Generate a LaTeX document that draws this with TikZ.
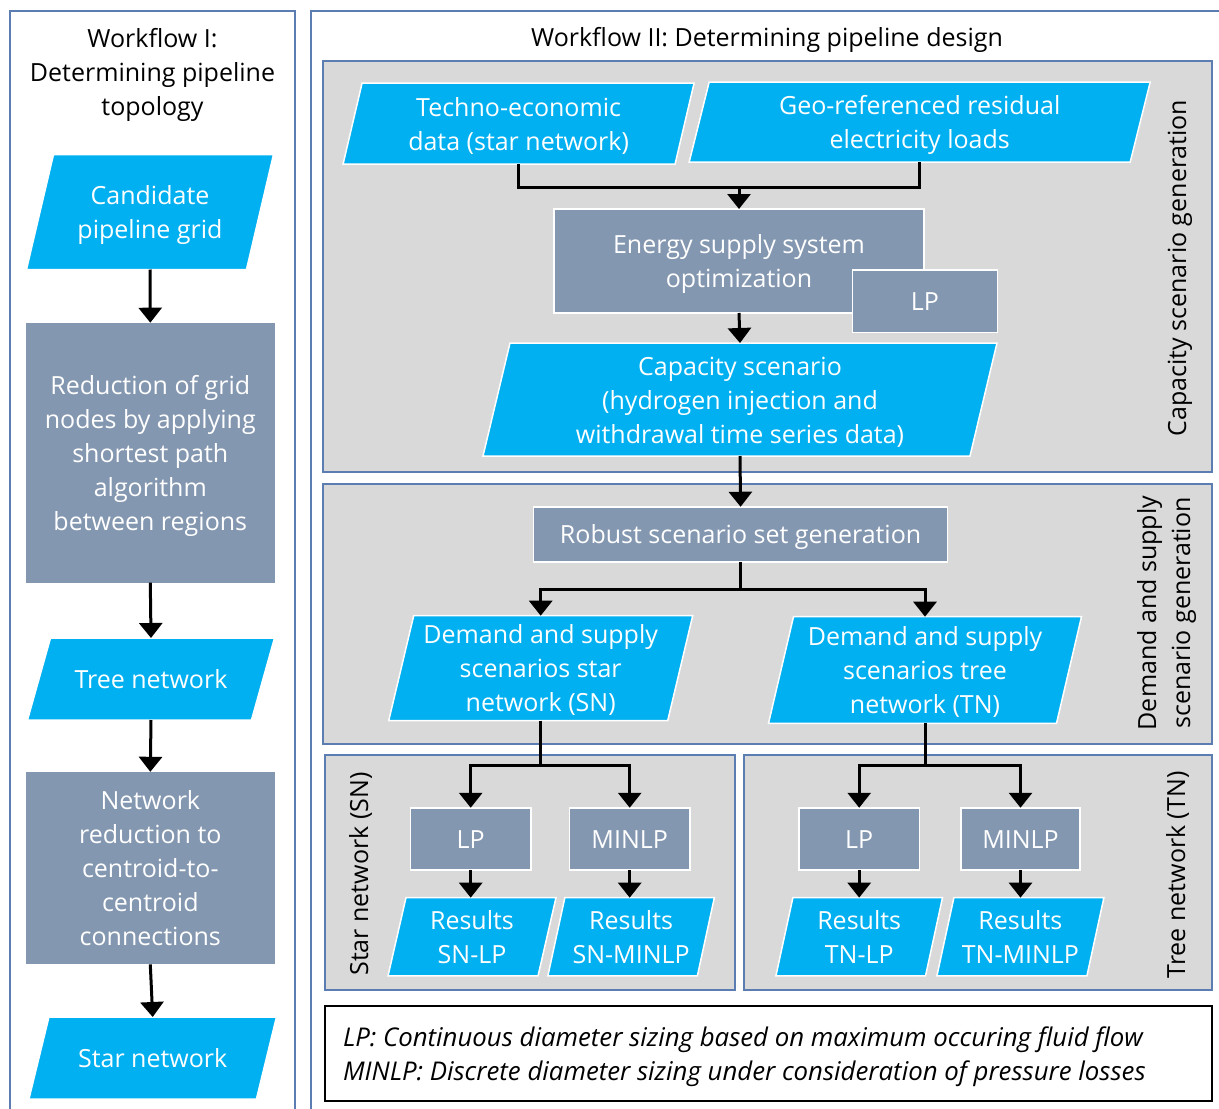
\documentclass[tikz,border=0pt]{standalone}
\usepackage{fontspec}
\setmainfont{Open Sans}
\usetikzlibrary{arrows.meta,calc}
\pgfdeclarelayer{bgpanel}
\pgfdeclarelayer{bgshape}
\pgfsetlayers{bgpanel,bgshape,main}
\definecolor{cyanF}{HTML}{00B0F0}
\definecolor{procF}{HTML}{8497B0}
\definecolor{panelF}{HTML}{D9D9D9}
\definecolor{frameC}{HTML}{5B7DB1}
% struts so every text block has fixed ascent/descent
\newcommand\T[1]{\rule{0pt}{26.5pt}#1\rule[-7.5pt]{0pt}{0pt}}
\tikzset{
 txt/.style={font=\fontsize{25}{34}\selectfont, align=center, inner sep=0pt, outer sep=0pt},
 proc/.style={txt, fill=procF, text=white, draw=white, line width=1.5pt},
 ptext/.style={txt, text=white},
 pshape/.style={fill=cyanF, draw=white, line width=1.5pt},
 panel/.style={fill=panelF, draw=frameC, line width=2pt},
 frame/.style={draw=frameC, line width=2pt},
 arr/.style={line width=3pt, -{Triangle[width=23pt,length=15pt]}},
 ln/.style={line width=3pt},
 vlabel/.style={txt, rotate=90, text=black},
}
% name, cx, cy, width of horizontal edge, height, slant, text
\newcommand\para[7]{%
 \node[ptext, minimum width=#4pt, minimum height=#5pt] (#1) at (#2,#3) {\T{#7}};
 \begin{pgfonlayer}{bgshape}
 \filldraw[pshape] ($(#1.north west)+(#6/2,0)$) -- ($(#1.north east)+(#6/2,0)$)
   -- ($(#1.south east)+(-#6/2,0)$) -- ($(#1.south west)+(-#6/2,0)$) -- cycle;
 \end{pgfonlayer}}
\begin{document}
\begin{tikzpicture}[x=1pt,y=-1pt]
\useasboundingbox (0,0) rectangle (1219,1109);
% ---------- panels ----------
\begin{pgfonlayer}{bgpanel}
 \fill[white] (0,0) rectangle (1219,1109);
 \draw[frame] (10,11) rectangle (295,1118);
 \draw[frame] (311,11) rectangle (1228,1118);
 \draw[panel] (323,61) rectangle (1212,472);
 \draw[panel] (323,484) rectangle (1212,744);
 \draw[panel] (325,755) rectangle (735,990);
 \draw[panel] (744,755) rectangle (1212,990);
 \draw[draw=black, line width=2pt] (325,1006) rectangle (1212,1101);
\end{pgfonlayer}
% ---------- workflow I ----------
\node[txt] (t1) at (152.5,72) {\T{Workflow I:\\Determining pipeline\\topology}};
\para{cand}{150}{212}{220}{115}{27}{Candidate\\pipeline grid}
\node[proc, draw=none, minimum width=248.7pt, minimum height=260pt] (red) at (150.3,452.7)
 {\T{Reduction of grid\\nodes by applying\\shortest path\\algorithm\\between regions}};
\para{tree}{151}{679}{224}{82}{23}{Tree network}
\node[proc, draw=none, minimum width=248.7pt, minimum height=192.6pt] (netred) at (150.3,868.1)
 {\T{Network\\reduction to\\centroid-to-\\centroid\\connections}};
\para{star}{152.7}{1058}{227.5}{82}{20}{Star network}
\draw[arr] (cand.south) -- (red.north);
\draw[arr] (red.south) -- (tree.north);
\draw[arr] (tree.south) -- (netred.north);
\draw[arr] (netred.south) -- (star.north);
% ---------- workflow II ----------
\node[txt] (t2) at (767,37) {\T{Workflow II: Determining pipeline design}};
\node[vlabel] (capl) at (1176.5,268) {\T{Capacity scenario generation}};
\para{techno}{518.6}{123.5}{332}{81}{19}{Techno-economic\\data (star network)}
\para{geo}{919.7}{122}{441}{80}{20}{Geo-referenced residual\\electricity loads}
\node[proc, minimum width=370pt, minimum height=104pt] (ess) at (739,261) {\T{Energy supply system\\optimization}};
\node[proc, minimum width=145pt, minimum height=62.7pt] (esslp) at (925,301.3) {\T{LP}};
\para{cap}{740}{399.5}{487}{113}{27}{Capacity scenario\\(hydrogen injection and\\withdrawal time series data)}
\coordinate (j1) at (739,187.5);
\draw[ln] (techno.south) |- (j1);
\draw[ln] (geo.south) |- (j1);
\draw[arr] (j1) -- (ess.north);
\draw[arr] (ess.south) -- (cap.north);
% demand and supply
\node[vlabel] (dsl) at (1163.5,613) {\T{Demand and supply\\scenario generation}};
\node[proc, minimum width=414pt, minimum height=55.3pt] (rob) at (740.6,534.4) {\T{Robust scenario set generation}};
\draw[arr] (cap.south) -- (rob.north);
\para{dsn}{540.7}{668.2}{279}{105}{25}{Demand and supply\\scenarios star\\network (SN)}
\para{dtn}{925}{670}{288}{106.6}{25}{Demand and supply\\scenarios tree\\network (TN)}
\coordinate (j2) at (740.6,589);
\draw[ln] (rob.south) -- (j2);
\draw[arr] (j2) -| (dsn.north);
\draw[arr] (j2) -| (dtn.north);
% star network
\node[vlabel] (snl) at (358.5,874) {\T{Star network (SN)}};
\node[proc, minimum width=120.6pt, minimum height=62.3pt] (snlp) at (470.7,838.9) {\T{LP}};
\node[proc, minimum width=120.6pt, minimum height=62.3pt] (snmin) at (629.7,838.9) {\T{MINLP}};
\para{rsnlp}{472}{936.8}{150}{78.3}{18}{Results\\SN-LP}
\para{rsnmin}{631.1}{936.8}{149.5}{78.3}{17}{Results\\SN-MINLP}
\coordinate (j3) at (540.7,765);
\draw[ln] (dsn.south) -- (j3);
\draw[arr] (j3) -| (snlp.north);
\draw[arr] (j3) -| (snmin.north);
\draw[arr] (snlp.south) -- (snlp.south |- rsnlp.north);
\draw[arr] (snmin.south) -- (snmin.south |- rsnmin.north);
% tree network
\node[vlabel] (tnl) at (1175.5,875) {\T{Tree network (TN)}};
\node[proc, minimum width=120.4pt, minimum height=62.3pt] (tnlp) at (859.2,838.9) {\T{LP}};
\node[proc, minimum width=119pt, minimum height=62.3pt] (tnmin) at (1020.5,838.9) {\T{MINLP}};
\para{rtnlp}{859.2}{936.8}{149.6}{78.3}{17}{Results\\TN-LP}
\para{rtnmin}{1020.4}{936.8}{150}{78.3}{17}{Results\\TN-MINLP}
\coordinate (j4) at (925,765);
\draw[ln] (dtn.south) -- (j4);
\draw[arr] (j4) -| (tnlp.north);
\draw[arr] (j4) -| (tnmin.north);
\draw[arr] (tnlp.south) -- (tnlp.south |- rtnlp.north);
\draw[arr] (tnmin.south) -- (tnmin.south |- rtnmin.north);
% legend
\node[txt, align=left, anchor=west, font=\fontsize{25.8}{34}\selectfont\itshape] (leg) at (343,1054)
 {\T{LP: Continuous diameter sizing based on maximum occuring fluid flow\\MINLP: Discrete diameter sizing under consideration of pressure losses}};
\end{tikzpicture}
\end{document}
